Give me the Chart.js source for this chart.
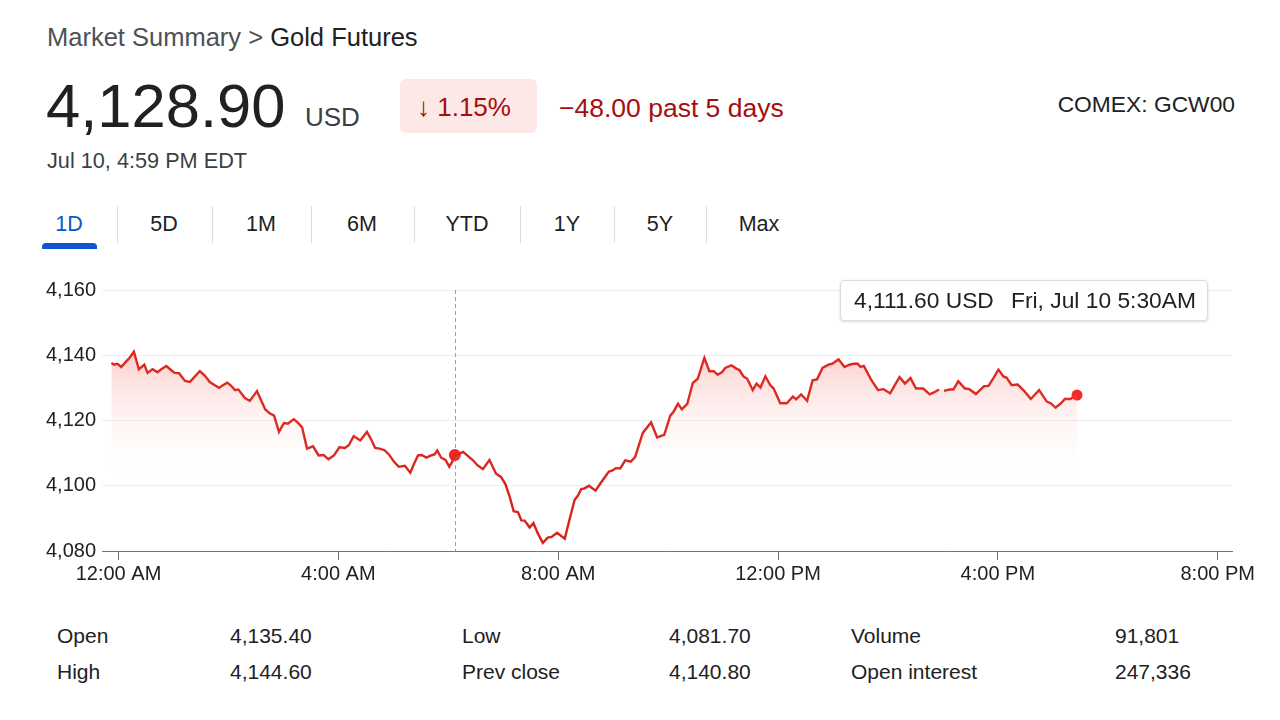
<!DOCTYPE html>
<html lang="en">
<head>
<meta charset="UTF-8">
<title>Market Summary &gt; Gold Futures</title>
<script src="https://cdn.jsdelivr.net/npm/chart.js"></script>
<style>
  body {
    margin: 0;
    width: 1280px;
    height: 720px;
    background: #fff;
    font-family: "Liberation Sans", Arial, sans-serif;
    color: #202124;
    position: relative;
    overflow: hidden;
  }
  .abs { position: absolute; line-height: 1; white-space: nowrap; }
  .crumb { left: 47px; top: 25px; font-size: 25.5px; color: #4d5156; }
  .crumb b { font-weight: normal; color: #202124; }
  .price { left: 46px; top: 75px; font-size: 61.5px; }
  .cur { left: 305px; top: 104px; font-size: 26px; color: #3c4043; }
  .badge { left: 400px; top: 79px; width: 137px; height: 54px; background: #fce8e6; border-radius: 6px; }
  .badge span { position: absolute; left: 17px; top: 15px; font-size: 26px; color: #a50e0e; line-height: 1; }
  .chg { left: 559px; top: 95px; font-size: 26.5px; color: #a50e0e; }
  .sym { right: 45px; top: 93px; font-size: 22.8px; color: #202124; }
  .date { left: 47px; top: 150px; font-size: 21.7px; color: #3c4043; }
  .tab { top: 214px; font-size: 21.5px; color: #202124; transform: translateX(-50%); }
  .tab.on { color: #0b57d0; }
  .sep { top: 206px; width: 1px; height: 37px; background: #dadce0; }
  .bar { left: 42px; top: 243px; width: 55px; height: 6px; background: #0b57d0; border-radius: 4px 4px 0 0; }
  #wrap { position: absolute; left: 0; top: 270px; width: 1280px; height: 330px; }
  .tip { left: 840px; top: 280px; width: 366px; height: 39px; border: 1px solid #dadce0; border-radius: 4px;
         background: #fff; box-shadow: 0 1px 3px rgba(60,64,67,0.18); }
  .tip span { position: absolute; top: 8px; font-size: 22.8px; line-height: 1; color: #202124; }
  .cell { font-size: 21px; color: #202124; }
</style>
</head>
<body>
<div class="abs crumb">Market Summary &gt; <b>Gold Futures</b></div>
<div class="abs price">4,128.90</div>
<div class="abs cur">USD</div>
<div class="abs badge"><span>&#8595; 1.15%</span></div>
<div class="abs chg">&#8722;48.00 past 5 days</div>
<div class="abs sym">COMEX: GCW00</div>
<div class="abs date">Jul 10, 4:59 PM EDT</div>

<div id="tabs"></div>
<div class="abs bar"></div>

<div id="wrap"><canvas id="chart"></canvas></div>

<div class="abs tip"><span style="left:13px">4,111.60 USD</span><span style="left:170px">Fri, Jul 10 5:30AM</span></div>

<div id="stats"></div>

<script>
// time in hours after midnight, price in USD
const times = [
  -0.13, -0.08, -0.02, 0.05, 0.13, 0.21, 0.28, 0.37, 0.47, 0.53, 0.62, 0.71, 0.78, 0.87, 0.96, 1.02, 1.10,
  1.21, 1.30, 1.38, 1.48, 1.57, 1.66, 1.75, 1.83, 1.90, 1.98, 2.04, 2.12, 2.18, 2.30, 2.39, 2.52, 2.60,
  2.67, 2.75, 2.83, 2.92, 3.01, 3.08, 3.19, 3.27, 3.34, 3.43, 3.54, 3.64, 3.73, 3.82, 3.92, 4.02, 4.12,
  4.19, 4.28, 4.40, 4.52, 4.60, 4.67, 4.75, 4.84, 4.92, 5.01, 5.10, 5.21, 5.31, 5.38, 5.45, 5.52, 5.60,
  5.69, 5.75, 5.80, 5.87, 5.95, 6.02, 6.08, 6.12, 6.18, 6.27, 6.36, 6.45, 6.53, 6.63, 6.75, 6.87, 6.96,
  7.04, 7.12, 7.19, 7.27, 7.33, 7.39, 7.48, 7.55, 7.63, 7.72, 7.81, 7.88, 7.98, 8.12, 8.21, 8.30, 8.36,
  8.42, 8.48, 8.56, 8.68, 8.78, 8.92, 8.99, 9.05, 9.13, 9.22, 9.32, 9.40, 9.54, 9.69, 9.80, 9.93, 10.04,
  10.10, 10.18, 10.25, 10.35, 10.45, 10.54, 10.66, 10.75, 10.83, 10.90, 10.98, 11.04, 11.15, 11.24, 11.30,
  11.37, 11.44, 11.54, 11.61, 11.68, 11.77, 11.86, 11.92, 12.04, 12.16, 12.27, 12.33, 12.42, 12.48, 12.53,
  12.63, 12.71, 12.81, 12.92, 12.99, 13.10, 13.21, 13.30, 13.38, 13.45, 13.50, 13.56, 13.69, 13.82, 13.92,
  14.04, 14.21, 14.31, 14.41, 14.51, 14.64, 14.76, 14.84, 14.93, 14.98, 15.02, 15.13, 15.19, 15.28, 15.40,
  15.48, 15.60, 15.75, 15.83, 15.92, 16.01, 16.10, 16.16, 16.25, 16.36, 16.48, 16.60, 16.75, 16.89, 16.96,
  17.05, 17.15, 17.22, 17.32, 17.44
];
const prices = [
  4137.6, 4137.1, 4137.4, 4136.4, 4137.9, 4139.4, 4141.1, 4135.7, 4137.1, 4134.6, 4135.7, 4134.8, 4135.7, 4136.7, 4135.4, 4134.6, 4134.5,
  4132.1, 4131.8, 4133.3, 4135.1, 4133.8, 4131.8, 4130.8, 4130.0, 4130.8, 4131.6, 4130.8, 4129.3, 4129.5, 4126.9, 4126.0, 4129.0, 4126.0,
  4123.4, 4122.2, 4121.5, 4116.5, 4119.2, 4119.0, 4120.4, 4119.2, 4117.9, 4111.4, 4112.1, 4109.3, 4109.4, 4108.1, 4109.3, 4111.8, 4111.6,
  4112.4, 4115.2, 4113.9, 4116.5, 4114.1, 4111.6, 4111.4, 4110.9, 4109.6, 4107.4, 4105.8, 4106.1, 4104.0, 4106.8, 4109.3, 4109.4, 4108.6,
  4109.3, 4109.6, 4110.8, 4108.6, 4107.9, 4105.8, 4107.6, 4109.4, 4109.6, 4110.4, 4109.1, 4107.8, 4106.3, 4105.1, 4107.9, 4103.7, 4102.7,
  4100.5, 4096.5, 4092.2, 4091.9, 4089.4, 4089.3, 4087.2, 4088.6, 4085.4, 4082.5, 4084.1, 4084.3, 4085.6, 4083.8, 4089.9, 4095.7, 4097.0,
  4099.0, 4099.2, 4100.0, 4098.5, 4101.0, 4104.3, 4104.7, 4105.4, 4105.3, 4107.8, 4107.4, 4108.8, 4116.2, 4119.4, 4114.8, 4115.6, 4121.5,
  4122.7, 4125.1, 4123.4, 4125.1, 4131.5, 4132.8, 4139.2, 4135.1, 4135.1, 4134.0, 4134.8, 4136.1, 4136.9, 4135.9, 4135.4,
  4133.5, 4132.8, 4129.3, 4131.3, 4130.1, 4133.5, 4130.8, 4129.8, 4125.3, 4125.3, 4127.3, 4126.5, 4128.0, 4126.9, 4126.0,
  4132.3, 4132.6, 4136.1, 4137.1, 4137.4, 4138.7, 4136.4, 4137.1, 4137.4, 4137.4, 4136.4, 4136.7, 4132.6, 4129.3, 4129.6,
  4128.3, 4133.3, 4131.3, 4133.0, 4129.8, 4129.8, 4128.0, 4128.6, 4129.5, null, 4129.1, 4129.5, 4129.5, 4132.0, 4129.8,
  4129.6, 4128.1, 4130.5, 4130.6, 4133.0, 4135.6, 4133.5, 4133.1, 4130.8, 4131.0, 4129.0, 4126.6, 4129.3, 4125.8, 4125.3,
  4123.9, 4125.3, 4126.6, 4126.6, 4127.8
];
const hoverTime = [6.12];
const hoverPrice = [4109.4];

const xTicks = [0, 4, 8, 12, 16, 20];
const xTickLabels = ["12:00 AM", "4:00 AM", "8:00 AM", "12:00 PM", "4:00 PM", "8:00 PM"];
const yTicks = [4080, 4100, 4120, 4140, 4160];

const tabNames = ["1D", "5D", "1M", "6M", "YTD", "1Y", "5Y", "Max"];
const tabCenters = [69, 164, 261, 362, 467, 567, 660, 759];
const tabSeps = [117, 212, 311, 414, 520, 614, 706];

const statLabels = [["Open", "High"], ["Low", "Prev close"], ["Volume", "Open interest"]];
const statValues = [["4,135.40", "4,144.60"], ["4,081.70", "4,140.80"], ["91,801", "247,336"]];
const statLabelX = [57, 462, 851];
const statValueX = [230, 669, 1115];
const statRowY = [625, 661];

// tabs
const tabs = document.getElementById("tabs");
tabNames.forEach((n, i) => {
  const d = document.createElement("div");
  d.className = "abs tab" + (i === 0 ? " on" : "");
  d.style.left = tabCenters[i] + "px";
  d.textContent = n;
  tabs.appendChild(d);
});
tabSeps.forEach(x => {
  const s = document.createElement("div");
  s.className = "abs sep";
  s.style.left = x + "px";
  tabs.appendChild(s);
});

// key stats
const stats = document.getElementById("stats");
statLabels.forEach((col, c) => {
  col.forEach((lab, r) => {
    const a = document.createElement("div");
    a.className = "abs cell";
    a.style.left = statLabelX[c] + "px";
    a.style.top = statRowY[r] + "px";
    a.textContent = lab;
    stats.appendChild(a);
    const b = document.createElement("div");
    b.className = "abs cell";
    b.style.left = statValueX[c] + "px";
    b.style.top = statRowY[r] + "px";
    b.textContent = statValues[c][r];
    stats.appendChild(b);
  });
});

// dashed crosshair at the hovered point
const crosshair = {
  id: "crosshair",
  beforeDatasetsDraw(chart) {
    const { ctx, chartArea, scales } = chart;
    const x = Math.round(scales.x.getPixelForValue(hoverTime[0])) + 0.5;
    ctx.save();
    ctx.strokeStyle = "#9aa0a6";
    ctx.lineWidth = 1;
    ctx.setLineDash([4, 3]);
    ctx.beginPath();
    ctx.moveTo(x, chartArea.top);
    ctx.lineTo(x, chartArea.bottom);
    ctx.stroke();
    ctx.restore();
  }
};

const series = times.map((t, i) => ({ x: t, y: prices[i] }));
const lastIdx = series.length - 1;

const areaFill = (c) => {
  const chart = c.chart;
  if (!chart.chartArea) return "rgba(0,0,0,0)";
  const y = chart.scales.y;
  const g = chart.ctx.createLinearGradient(0, y.getPixelForValue(4140), 0, y.getPixelForValue(4101));
  g.addColorStop(0, "rgba(242,78,66,0.26)");
  g.addColorStop(1, "rgba(255,255,255,0)");
  return g;
};

new Chart(document.getElementById("chart"), {
  type: "line",
  data: {
    datasets: [
      {
        // shaded area (continuous under the short gap)
        data: series,
        borderWidth: 0,
        borderColor: "rgba(0,0,0,0)",
        tension: 0,
        spanGaps: true,
        fill: "start",
        backgroundColor: areaFill,
        pointRadius: 0
      },
      {
        data: series,
        borderColor: "#d9231b",
        borderWidth: 2.4,
        tension: 0,
        spanGaps: false,
        fill: false,
        pointRadius: (c) => (c.dataIndex === lastIdx ? 5.5 : 0),
        pointBackgroundColor: "#ee2a22",
        pointBorderWidth: 0
      },
      {
        data: hoverTime.map((t, i) => ({ x: t, y: hoverPrice[i] })),
        showLine: false,
        pointRadius: 6,
        pointBackgroundColor: "#ee2a22",
        pointBorderWidth: 0
      }
    ]
  },
  options: {
    responsive: true,
    maintainAspectRatio: false,
    animation: false,
    layout: { padding: { top: 20, right: 48, left: 0, bottom: 0 } },
    plugins: { legend: { display: false }, tooltip: { enabled: false } },
    scales: {
      x: {
        type: "linear",
        min: -0.3,
        max: 20.26,
        afterBuildTicks: (s) => { s.ticks = xTicks.map(v => ({ value: v })); },
        afterFit: (s) => { s.height = 49; },
        ticks: {
          callback: (v) => xTickLabels[xTicks.indexOf(v)],
          font: { family: "'Liberation Sans', Arial, sans-serif", size: 20 },
          color: "#202124",
          padding: 2,
          maxRotation: 0
        },
        grid: { drawOnChartArea: false, drawTicks: true, tickLength: 9, color: "#70757a" },
        border: { display: true, color: "#70757a", width: 1 }
      },
      y: {
        min: 4080,
        max: 4160,
        afterBuildTicks: (s) => { s.ticks = yTicks.map(v => ({ value: v })); },
        afterFit: (s) => { s.width = 102; },
        ticks: {
          callback: (v) => v.toLocaleString("en-US"),
          font: { family: "'Liberation Sans', Arial, sans-serif", size: 20 },
          color: "#202124",
          padding: 6
        },
        grid: { color: "#eceef0", drawTicks: false },
        border: { display: false }
      }
    }
  },
  plugins: [crosshair]
});
</script>
</body>
</html>
